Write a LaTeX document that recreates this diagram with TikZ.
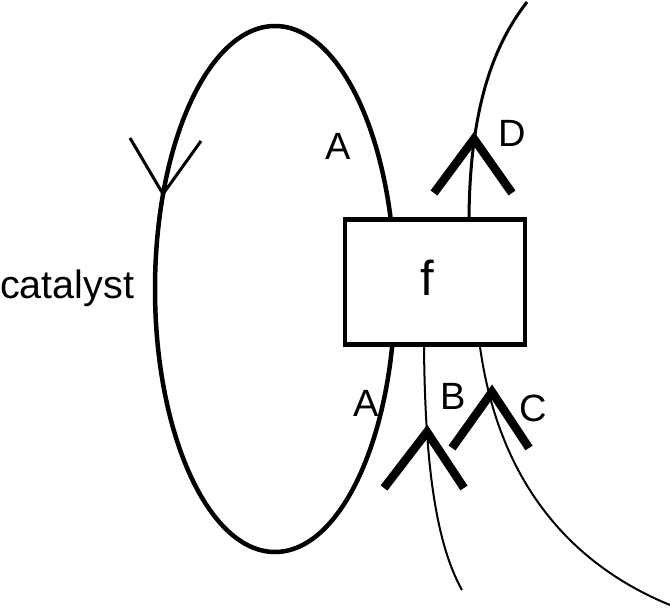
\documentclass[tikz,border=0pt]{standalone}
\usepackage{fontspec}
\setmainfont{Liberation Sans}
\begin{document}
\begin{tikzpicture}[x=1pt,y=-1pt,
  loopline/.style={line width=4.5pt},
  wire/.style={line width=2pt},
  wireD/.style={line width=3pt},
  chev/.style={line width=8.5pt,line cap=butt,line join=miter},
  thinchev/.style={line width=3pt,line cap=butt,line join=miter},
  lbl/.style={font=\fontsize{38}{38}\selectfont,inner sep=0pt},
  box/.style={draw,line width=4.5pt,fill=white,minimum width=180pt,minimum height=125pt,inner sep=0pt}]
\useasboundingbox (0,0) rectangle (670,612);
% catalyst loop
\coordinate (E) at (275,289);
\draw[loopline] (E) ellipse [x radius=120pt, y radius=263pt];
% box
\node[box] (f) at (435,282) {};
\node[lbl,font=\fontsize{49}{49}\selectfont] (ftext) at (427,278) {f};
% x positions of wires
\coordinate (Dx) at (469,0);
\coordinate (Bx) at (424,0);
\coordinate (Cx) at (480,0);
\coordinate (Dend) at (527,2);
\coordinate (Bend) at (462,590);
\coordinate (Cend) at (670,605);
% wires
\draw[wireD] (f.north -| Dx) .. controls (470,120) and (488,52) .. (Dend);
\draw[wire] (f.south -| Bx) .. controls (425,455) and (434,540) .. (Bend);
\draw[wire] (f.south -| Cx) .. controls (497,470) and (560,560) .. (Cend);
% chevrons
\coordinate (Da) at (474,139);
\coordinate (Dl) at (434,193);
\coordinate (Dr) at (512,193);
\draw[chev] (Dl) -- (Da) -- (Dr);
\coordinate (Ba) at (427,432);
\coordinate (Bl) at (384,488);
\coordinate (Br) at (464,488);
\draw[chev] (Bl) -- (Ba) -- (Br);
\coordinate (Ca) at (492,392);
\coordinate (Cl) at (452,448);
\coordinate (Cr) at (529,448);
\draw[chev] (Cl) -- (Ca) -- (Cr);
\coordinate (Ka) at (163,194);
\coordinate (Kl) at (130,138);
\coordinate (Kr) at (201,141);
\draw[thinchev] (Kl) -- (Ka) -- (Kr);
% labels
\node[lbl,font=\fontsize{39.5}{39.5}\selectfont,anchor=base west] (cat) at (0,299) {catalyst};
\node[lbl] (A1) at (338,146) {A};
\node[lbl] (D) at (512,133) {D};
\node[lbl] (A2) at (366,403) {A};
\node[lbl] (B) at (453,396) {B};
\node[lbl] (C) at (533,408) {C};
\end{tikzpicture}
\end{document}
